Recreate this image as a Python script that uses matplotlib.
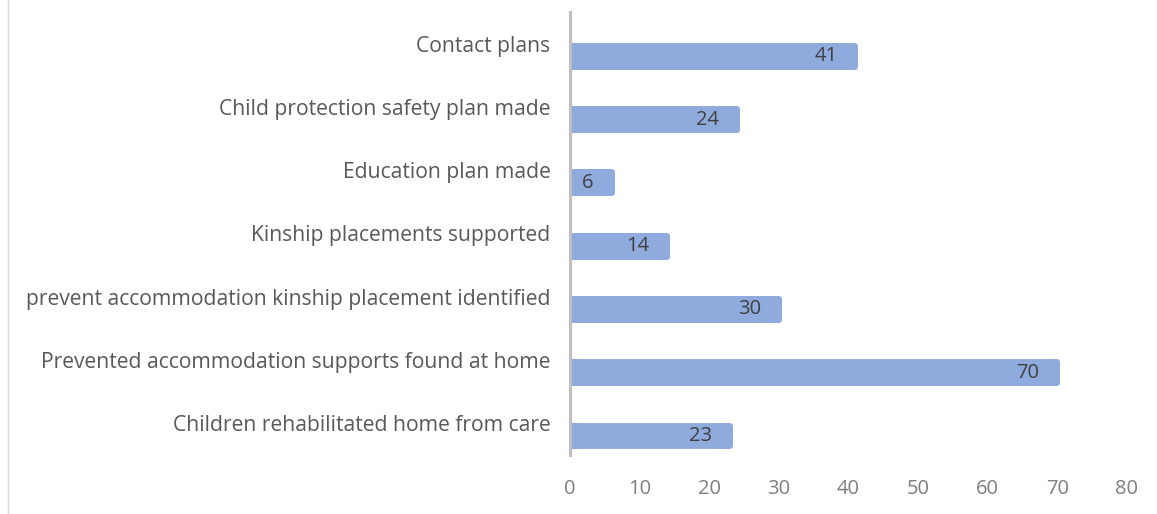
import matplotlib
matplotlib.use("Agg")
import matplotlib.pyplot as plt
from matplotlib.lines import Line2D

categories = [
    "Children rehabilitated home from care",
    "Prevented accommodation supports found at home",
    "prevent accommodation kinship placement identified",
    "Kinship placements supported",
    "Education plan made",
    "Child protection safety plan made",
    "Contact plans",
]
values = [23, 70, 30, 14, 6, 24, 41]
xticks = [0, 10, 20, 30, 40, 50, 60, 70, 80]

bar_color = "#8FAADC"
font = "Open Sans"
fs = 14.5
fs_cat = 15.2

fig = plt.figure(figsize=(11.57, 5.14), dpi=100)
ax = fig.add_axes([570 / 1157, 1 - 455 / 514, (1127 - 570) / 1157, 443 / 514])

ypos = list(range(len(categories)))
bar_y = [y - 0.2 for y in ypos]
ax.barh(bar_y, values, height=0.33, color=bar_color, edgecolor=bar_color,
        linewidth=4.3, joinstyle="round", zorder=2)

for y, v in zip(bar_y, values):
    ax.annotate(str(v), xy=(v, y), xytext=(-13, 0), textcoords="offset points",
                ha="right", va="center", fontsize=fs, color="#404040",
                family=font, zorder=3)

ax.set_xlim(0, 80)
ax.set_ylim(-0.5, len(categories) - 0.5)
ax.set_yticks(ypos)
ax.set_yticklabels(categories, family=font, fontsize=fs_cat, color="#595959")
ax.set_xticks(xticks)
ax.set_xticklabels([str(t) for t in xticks], family=font, fontsize=fs, color="#7F7F7F")
ax.tick_params(axis="both", length=0)
ax.tick_params(axis="y", pad=14)
ax.tick_params(axis="x", pad=17)
for s in ["top", "right", "bottom"]:
    ax.spines[s].set_visible(False)
ax.spines["left"].set_color("#BFBFBF")
ax.spines["left"].set_linewidth(2.2)
ax.spines["left"].set_zorder(4)

fig.add_artist(Line2D([8 / 1157, 8 / 1157], [0, 1], transform=fig.transFigure,
                      color="#D9D9D9", linewidth=1))

fig.savefig("out.png", dpi=100)
